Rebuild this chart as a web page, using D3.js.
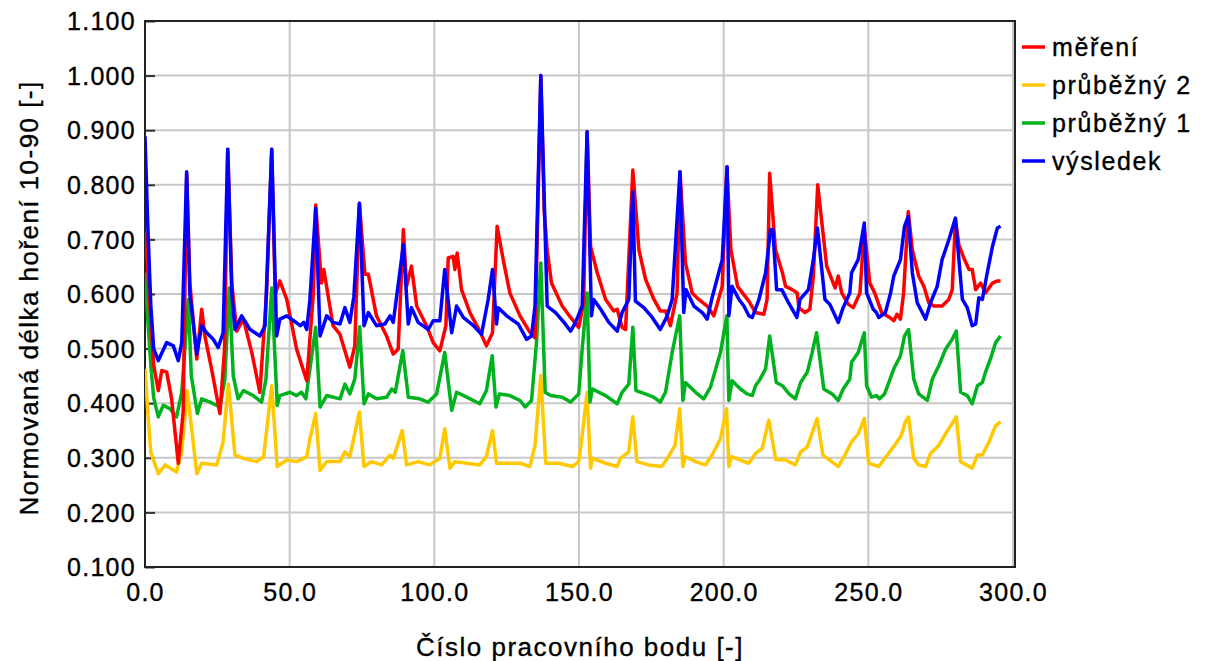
<!DOCTYPE html>
<html><head><meta charset="utf-8">
<script src="https://cdn.jsdelivr.net/npm/d3@7"></script>
<style>
body{margin:0;background:#fff;}
text{font-family:"Liberation Sans",Arial,sans-serif;fill:#000;stroke:#000;stroke-width:0.35px;}
</style></head>
<body><svg id="c" width="1205" height="661"></svg>
<script>
const seriesNames = ["měření","průběžný 2","průběžný 1","výsledek"];
const seriesColors = ["#ff0000","#ffc800","#00b21e","#0000ff"];
const xTicks = [0,50,100,150,200,250,300];
const yTicks = [0.1,0.2,0.3,0.4,0.5,0.6,0.7,0.8,0.9,1.0,1.1];
const xTitle = "Číslo pracovního bodu [-]";
const yTitle = "Normovaná délka hoření 10-90 [-]";

const mereni = [[0,0.715],[1,0.64],[2,0.55],[3,0.47],[4.6,0.423],[5.8,0.46],[7.5,0.457],[9.2,0.408],[11.5,0.29],[13.2,0.384],[14.4,0.82],[15.5,0.62],[17.9,0.481],[19.6,0.572],[20.7,0.523],[23,0.463],[25.9,0.381],[27.5,0.5],[28.6,0.865],[30,0.62],[31.7,0.532],[34,0.554],[36.9,0.493],[39.7,0.42],[42,0.6],[43.8,0.865],[45,0.6],[46.6,0.624],[49,0.59],[52.4,0.499],[55.9,0.441],[58.2,0.602],[59,0.763],[61,0.62],[61.8,0.645],[65,0.542],[67.4,0.526],[70.8,0.466],[72.5,0.505],[74.1,0.766],[76,0.636],[77.2,0.636],[80,0.56],[83.5,0.523],[85.8,0.49],[87.5,0.499],[89.3,0.718],[90.4,0.614],[92.1,0.651],[93.9,0.578],[97.3,0.542],[99.6,0.511],[101.9,0.496],[104,0.542],[104.8,0.666],[106.5,0.669],[107.1,0.645],[107.9,0.675],[109.4,0.608],[112.3,0.566],[115.7,0.532],[118,0.505],[120.1,0.529],[121.7,0.724],[123.8,0.663],[126.1,0.602],[129.6,0.56],[133,0.53],[134.8,0.52],[136.8,1.0],[138,0.75],[139,0.68],[140.5,0.62],[144.2,0.578],[147.1,0.557],[149.9,0.539],[151.6,0.584],[152.8,0.897],[154,0.687],[156.3,0.639],[159.2,0.59],[162,0.569],[163.2,0.572],[164.9,0.539],[166.1,0.535],[168.6,0.827],[170.7,0.681],[173,0.627],[175.9,0.59],[178.1,0.569],[179.9,0.569],[181.6,0.542],[183.9,0.602],[184.9,0.824],[186.8,0.657],[189.1,0.602],[191.4,0.59],[194.3,0.578],[196.6,0.56],[199.5,0.614],[201.1,0.833],[202.5,0.681],[204.8,0.614],[206.5,0.602],[208.7,0.587],[211,0.566],[213.9,0.563],[215,0.59],[215.9,0.821],[217.9,0.681],[220.3,0.639],[221.4,0.614],[223.7,0.608],[225.4,0.602],[226,0.575],[228.1,0.566],[229.8,0.572],[231,0.633],[232.5,0.8],[235.6,0.651],[238.5,0.611],[239.6,0.633],[240.8,0.602],[243.1,0.581],[244.8,0.575],[247.1,0.602],[248.6,0.72],[250.5,0.62],[252.2,0.602],[254.6,0.566],[257.4,0.557],[258.8,0.551],[259.9,0.563],[261.1,0.554],[262.2,0.602],[263.8,0.751],[265.2,0.681],[267.4,0.633],[269.2,0.614],[270.9,0.584],[272.6,0.578],[275.5,0.578],[277.8,0.59],[279,0.608],[280.1,0.736],[281.3,0.69],[283,0.666],[284.8,0.645],[285.9,0.645],[287.1,0.608],[288.8,0.62],[290.5,0.602],[292.9,0.62],[294.6,0.624],[295.7,0.624]];

const prubezny2 = [[0,0.463],[1,0.38],[2,0.31],[4.6,0.271],[7,0.287],[10.9,0.274],[12.7,0.311],[14.6,0.423],[17.9,0.271],[19.6,0.29],[24.8,0.287],[27,0.329],[28.8,0.435],[31.1,0.305],[34,0.299],[38.6,0.293],[41,0.302],[43.8,0.432],[45.7,0.284],[49,0.296],[52.4,0.293],[54.7,0.299],[55.9,0.302],[57,0.335],[59,0.381],[60.5,0.277],[62.8,0.293],[67.4,0.293],[69.1,0.311],[70.8,0.302],[74.1,0.384],[75.7,0.284],[78.3,0.293],[81.8,0.287],[84.7,0.305],[85.8,0.299],[88.9,0.35],[90.4,0.287],[94.4,0.293],[98.4,0.287],[101.9,0.299],[103.6,0.353],[105.4,0.281],[107.1,0.293],[111.2,0.29],[115.7,0.287],[118,0.302],[120.1,0.35],[121.5,0.29],[125,0.29],[129.6,0.29],[133,0.284],[134.8,0.323],[136.8,0.451],[138.5,0.29],[143.1,0.29],[147.7,0.284],[149.9,0.293],[151.1,0.341],[152.8,0.42],[154,0.281],[154.6,0.299],[159.2,0.29],[163.2,0.284],[164.3,0.299],[167.2,0.311],[168.6,0.375],[170,0.293],[174,0.287],[178.6,0.284],[180.9,0.302],[183.2,0.323],[184.8,0.39],[185.9,0.284],[186.8,0.302],[190.3,0.293],[193.7,0.287],[196,0.305],[198.9,0.335],[201,0.39],[201.8,0.284],[202.7,0.302],[205.8,0.296],[208.7,0.29],[211,0.308],[213.3,0.317],[215.6,0.369],[218,0.297],[221.4,0.296],[224.8,0.287],[226.6,0.311],[228.9,0.32],[232.3,0.372],[234.3,0.305],[239.6,0.284],[241.9,0.305],[244.2,0.329],[246.5,0.344],[248.6,0.372],[250.1,0.29],[253.6,0.284],[257.4,0.311],[259.1,0.323],[261.4,0.341],[262.8,0.366],[263.9,0.375],[265.7,0.299],[267.4,0.287],[269.8,0.284],[271.5,0.308],[274.4,0.323],[276.7,0.344],[280.4,0.375],[281.9,0.293],[285.9,0.281],[287.7,0.305],[289.4,0.305],[291.7,0.329],[294,0.359],[295.7,0.366]];

const prubezny1 = [[0,0.639],[1,0.55],[2,0.47],[3,0.41],[4.6,0.375],[6.3,0.396],[8.6,0.39],[10.9,0.375],[12.7,0.42],[15,0.59],[16,0.45],[18.1,0.381],[19.6,0.408],[22.5,0.402],[25.9,0.393],[27.6,0.444],[29.1,0.611],[30.5,0.45],[32.2,0.408],[34,0.423],[37.4,0.414],[40.3,0.402],[41.8,0.444],[43.8,0.611],[45.7,0.396],[46.6,0.414],[50.1,0.42],[52.4,0.414],[54.1,0.42],[55.6,0.408],[57,0.463],[59,0.539],[60.5,0.393],[62.8,0.414],[67.4,0.408],[69.1,0.435],[70.8,0.417],[72.5,0.444],[74.2,0.54],[75.7,0.399],[77.2,0.417],[80,0.408],[83.5,0.411],[85.3,0.426],[86.5,0.42],[89.1,0.496],[91,0.411],[94.9,0.408],[97.9,0.402],[100.8,0.417],[103.6,0.493],[106,0.387],[107.7,0.42],[111.2,0.411],[115.7,0.399],[118,0.423],[120,0.487],[121.3,0.393],[122.5,0.417],[126.1,0.414],[129.6,0.405],[131.4,0.393],[133.6,0.405],[135.3,0.511],[136.8,0.657],[138.3,0.42],[140.2,0.414],[144.2,0.411],[147.1,0.402],[149.9,0.417],[151.1,0.499],[152.8,0.602],[153.8,0.402],[154.6,0.426],[159.2,0.414],[163.2,0.399],[164.9,0.42],[167.2,0.435],[168.6,0.539],[169.7,0.423],[172.9,0.417],[175.8,0.411],[178.1,0.402],[179.9,0.42],[182.2,0.493],[184.8,0.56],[185.9,0.405],[186.8,0.438],[190.3,0.42],[193.1,0.408],[195.4,0.429],[198.9,0.493],[201.1,0.56],[201.8,0.405],[202.9,0.441],[205.8,0.426],[208.1,0.417],[209.9,0.414],[211,0.432],[212.6,0.444],[214.5,0.463],[215.9,0.523],[218.2,0.438],[220.3,0.432],[222.6,0.417],[224.8,0.408],[226.6,0.438],[228.9,0.457],[230.6,0.493],[232.1,0.529],[234.6,0.426],[237.5,0.417],[239.6,0.405],[241.3,0.426],[243.6,0.444],[244.2,0.475],[246.5,0.493],[248.6,0.529],[249.4,0.432],[251.1,0.411],[252.8,0.414],[253.9,0.408],[255.6,0.417],[257.1,0.438],[258.8,0.463],[261.1,0.487],[262.5,0.523],[263.9,0.535],[265.7,0.444],[267.4,0.417],[270.4,0.405],[272.1,0.444],[274.4,0.469],[276.7,0.499],[279,0.517],[280.4,0.532],[281.9,0.42],[284.2,0.414],[285.9,0.399],[287.7,0.432],[289.4,0.438],[290.5,0.457],[292.2,0.481],[294,0.511],[295.7,0.523]];

const vysledek = [[0,0.889],[1,0.72],[2,0.58],[3,0.5],[4.6,0.478],[7.5,0.511],[9.8,0.505],[11.5,0.478],[12.7,0.511],[14.4,0.824],[15.5,0.6],[17.9,0.49],[19.6,0.542],[21.3,0.529],[23.6,0.517],[25.3,0.502],[27,0.529],[28.6,0.865],[30,0.6],[31.1,0.535],[33.4,0.56],[36.3,0.535],[39.7,0.523],[41.5,0.542],[43.8,0.865],[45.5,0.523],[46.6,0.554],[49,0.56],[51.4,0.551],[53.7,0.542],[54.9,0.548],[55.9,0.535],[57,0.59],[59,0.757],[60.5,0.523],[62.8,0.56],[65,0.548],[67.4,0.545],[69.1,0.575],[70.8,0.548],[72.2,0.596],[74.1,0.766],[75.7,0.542],[77.2,0.566],[80,0.542],[82.9,0.545],[84.7,0.56],[85.8,0.548],[89.3,0.69],[91,0.545],[92.1,0.575],[94.4,0.548],[97.9,0.535],[99.6,0.551],[101.9,0.551],[103.6,0.645],[106,0.529],[107.7,0.578],[110,0.557],[113.5,0.542],[116.3,0.526],[118.6,0.59],[120.1,0.645],[121.5,0.545],[122.1,0.575],[125,0.56],[129,0.545],[131.9,0.517],[133.6,0.523],[134.8,0.578],[136.8,1.0],[139,0.578],[141.9,0.566],[144.8,0.548],[147.1,0.532],[148.8,0.548],[151.1,0.578],[152.8,0.897],[154.3,0.56],[155.1,0.59],[157.5,0.572],[160.3,0.548],[163.2,0.532],[164.9,0.566],[167.2,0.59],[168.6,0.787],[169.5,0.587],[172.4,0.575],[175.3,0.557],[178.1,0.535],[180.5,0.56],[182.2,0.59],[184.9,0.824],[186.2,0.566],[187,0.608],[189.7,0.578],[192.6,0.566],[194.3,0.554],[196,0.593],[199.5,0.663],[201.2,0.833],[201.8,0.56],[202.9,0.614],[205.3,0.59],[207,0.578],[208.7,0.56],[209.9,0.557],[212.2,0.59],[214.5,0.639],[216.2,0.718],[217,0.718],[218.3,0.608],[220.1,0.608],[222.4,0.584],[225.3,0.557],[226.4,0.59],[229.3,0.608],[231,0.663],[232.4,0.721],[235,0.59],[236.7,0.581],[239.6,0.548],[241.3,0.575],[243.6,0.602],[244.2,0.639],[246.5,0.663],[248.6,0.73],[249.4,0.602],[251.7,0.572],[252.8,0.566],[253.6,0.557],[255.9,0.566],[257.7,0.602],[258.8,0.633],[261.1,0.663],[262.5,0.724],[263.8,0.742],[265.2,0.639],[266.9,0.584],[269.8,0.554],[271.5,0.584],[273.8,0.614],[275.5,0.663],[277.8,0.699],[280.1,0.739],[281.3,0.663],[282.5,0.59],[284.2,0.575],[285.9,0.542],[287.1,0.545],[288.2,0.593],[289.4,0.59],[291.1,0.639],[292.9,0.687],[294.6,0.721],[295.7,0.724]];

const allSeries = [mereni, prubezny2, prubezny1, vysledek];

const L = 145, R = 1015, T = 21, B = 567;
const svg = d3.select("#c");
const x = d3.scaleLinear().domain([0,300]).range([L,1013]);
const y = d3.scaleLinear().domain([0.1,1.1]).range([B,T]);

// grid
svg.append("g").selectAll("line").data(xTicks.slice(1)).join("line")
  .attr("x1",d=>x(d)).attr("x2",d=>x(d)).attr("y1",T).attr("y2",B)
  .attr("stroke","#c8c8c8").attr("stroke-width",2);
svg.append("g").selectAll("line").data(yTicks.slice(1,-1)).join("line")
  .attr("x1",L).attr("x2",R).attr("y1",d=>y(d)).attr("y2",d=>y(d))
  .attr("stroke","#c8c8c8").attr("stroke-width",2);

// axes
const yAxis = d3.axisLeft(y).tickValues(yTicks).tickFormat(d3.format(".3f")).tickSize(-10).tickPadding(9);
const gy = svg.append("g").attr("transform",`translate(${L},0)`).call(yAxis);
gy.select(".domain").remove();
gy.selectAll(".tick line").attr("stroke","#333").attr("stroke-width",2);
gy.selectAll("text").attr("font-size",25).attr("letter-spacing","1.3px").attr("dy","0.35em");

const xAxis = d3.axisBottom(x).tickValues(xTicks).tickFormat(d3.format(".1f")).tickSize(0).tickPadding(16);
const gx = svg.append("g").attr("transform",`translate(0,${B})`).call(xAxis);
gx.select(".domain").remove();
gx.selectAll("text").attr("font-size",25).attr("letter-spacing","1.3px");

// frame
svg.append("rect").attr("x",L).attr("y",T).attr("width",R-L).attr("height",B-T)
  .attr("fill","none").attr("stroke","#222").attr("stroke-width",2);

// lines
const line = d3.line().x(d=>x(d[0])).y(d=>y(d[1]));
svg.append("clipPath").attr("id","clp").append("rect").attr("x",L).attr("y",T).attr("width",R-L).attr("height",B-T);
const order = [1,2,0,3];
svg.append("g").attr("clip-path","url(#clp)").selectAll("path").data(order).join("path")
  .attr("d",i=>line(allSeries[i])).attr("fill","none")
  .attr("stroke",i=>seriesColors[i]).attr("stroke-width",3.5).attr("stroke-linejoin","round");

// titles
svg.append("text").attr("x",(L+R)/2).attr("y",656).attr("text-anchor","middle")
  .attr("font-size",26).attr("letter-spacing","1.5px").text(xTitle);
svg.append("text").attr("transform",`translate(38,298) rotate(-90)`).attr("text-anchor","middle")
  .attr("font-size",26).attr("letter-spacing","1.45px").text(yTitle);

// legend
const lg = svg.append("g").selectAll("g").data(seriesNames).join("g")
  .attr("transform",(d,i)=>`translate(1022,${47+i*38})`);
lg.append("line").attr("x1",0).attr("x2",23).attr("y1",0).attr("y2",0)
  .attr("stroke",(d,i)=>seriesColors[i]).attr("stroke-width",3.5);
lg.append("text").attr("x",30).attr("y",0).attr("dy","0.35em").attr("font-size",25)
  .attr("letter-spacing","1.6px").text(d=>d);
</script></body></html>
